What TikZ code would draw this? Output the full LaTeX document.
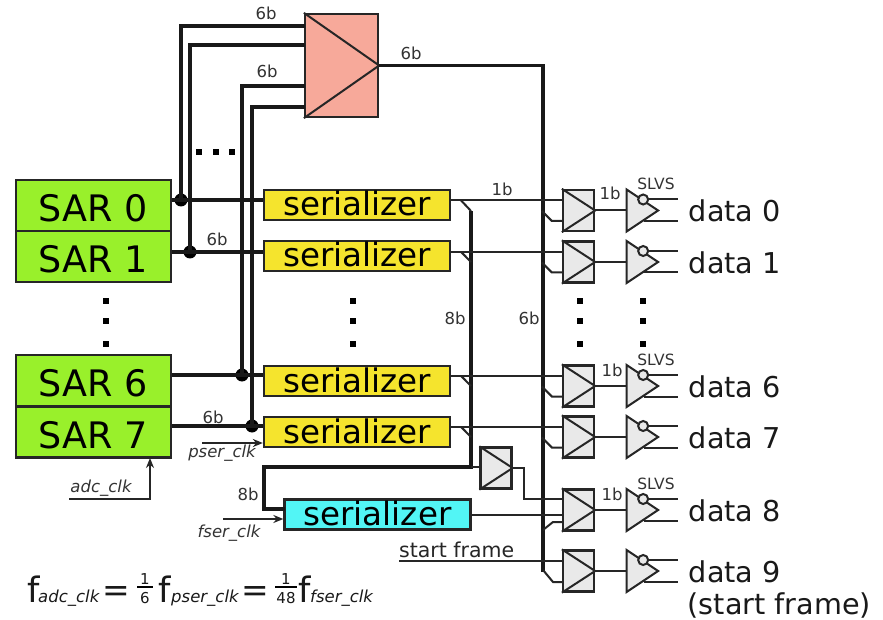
\documentclass[tikz,border=0pt]{standalone}
\usepackage{fontspec}
\setmainfont{DejaVu Sans}
\usetikzlibrary{arrows.meta,calc}
\definecolor{sargreen}{HTML}{99F02B}
\definecolor{seryellow}{HTML}{F5E42D}
\definecolor{sercyan}{HTML}{52F5F5}
\definecolor{muxpink}{HTML}{F7A99A}
\definecolor{muxgray}{HTML}{E9E9E9}
\definecolor{labelgray}{HTML}{333333}
\tikzset{
  x=1pt,y=-1pt,
  boxline/.style={draw=black!85,line width=2.3pt,inner sep=0pt,anchor=center},
  sarbox/.style={boxline,fill=sargreen,minimum width=155pt,minimum height=51pt,font=\fontsize{36.5}{36.5}\selectfont,text height=32pt,text depth=0pt},
  serbox/.style={boxline,fill=seryellow,minimum width=186pt,minimum height=30pt,font=\fontsize{32.5}{32.5}\selectfont,text height=25pt,text depth=3pt},
  cyanbox/.style={serbox,fill=sercyan},
  bigmux/.style={boxline,fill=muxpink,minimum width=73pt,minimum height=103pt},
  datamux/.style={boxline,fill=muxgray,minimum width=31pt,minimum height=41pt},
  busthick/.style={line width=3.8pt,draw=black!90},
  busmid/.style={line width=3.4pt,draw=black!90},
  wire/.style={line width=2pt,draw=black!85},
  clkwire/.style={line width=1.7pt,draw=black!85,-{Stealth[length=10pt,width=8pt]}},
  junction/.style={circle,fill=black,inner sep=0pt,minimum size=13pt},
  dotmark/.style={rectangle,fill=black,inner sep=0pt,minimum size=6pt},
  smalltxt/.style={font=\fontsize{16.5}{16.5}\selectfont,text=labelgray,anchor=base,inner sep=0pt},
  slvstxt/.style={font=\fontsize{15.5}{15.5}\selectfont,text=labelgray,anchor=base,inner sep=0pt},
  clktxt/.style={font=\fontsize{16.5}{16.5}\selectfont\itshape,text=labelgray,anchor=base,inner sep=0pt},
  datatxt/.style={font=\fontsize{28.7}{28.7}\selectfont,anchor=base west,inner sep=0pt,text=black!90},
  eqtxt/.style={anchor=base west,inner sep=0pt,text=black!90},
}
\begin{document}
\begin{tikzpicture}
\useasboundingbox (0,0) rectangle (883,620);
\fill[white] (0,0) rectangle (883,620);

% blocks
\node[sarbox] (sar0) at (93.5,205.5) {SAR 0};
\node[sarbox] (sar1) at (93.5,256.5) {SAR 1};
\node[sarbox] (sar6) at (93.5,380.5) {SAR 6};
\node[sarbox] (sar7) at (93.5,432) {SAR 7};
\node[serbox] (ser0) at (357,205) {serializer};
\node[serbox] (ser1) at (357,256) {serializer};
\node[serbox] (ser6) at (357,381) {serializer};
\node[serbox] (ser7) at (357,432) {serializer};
\node[cyanbox] (ser8) at (377.5,514.5) {serializer};
\node[bigmux] (bm) at (341.5,65.5) {};
\node[datamux] (sm) at (496,468) {};
\node[datamux] (dm0) at (578.5,210.5) {};
\node[datamux] (dm1) at (578.5,262) {};
\node[datamux] (dm6) at (578.5,386) {};
\node[datamux] (dm7) at (578.5,437) {};
\node[datamux] (dm8) at (578.5,510) {};
\node[datamux] (dm9) at (578.5,571) {};

% triangles inside the multiplexers
\foreach \m in {bm,sm,dm0,dm1,dm6,dm7,dm8,dm9}
  \draw[wire] (\m.north west) -- (\m.east) -- (\m.south west);

% SAR outputs and junctions
\node[junction] (j0) at (181,200) {};
\node[junction] (j1) at (190,252) {};
\node[junction] (j6) at (242,375) {};
\node[junction] (j7) at (252,426) {};
\coordinate (bi0) at (305,26);
\coordinate (bi1) at (305,45);
\coordinate (bi6) at (305,86);
\coordinate (bi7) at (305,107);

\draw[busthick] (j0.center) -- (j0.center |- bi0) -- (bi0);
\draw[busthick] (j1.center) -- (j1.center |- bi1) -- (bi1);
\draw[busmid] (j6.center) -- (j6.center |- bi6) -- (bi6);
\draw[busmid] (j7.center) -- (j7.center |- bi7) -- (bi7);

\draw[busthick] (sar0.east |- j0) -- (ser0.west |- j0);
\draw[busthick] (sar1.east |- j1) -- (ser1.west |- j1);
\draw[busthick] (sar6.east |- j6) -- (ser6.west |- j6);
\draw[busthick] (sar7.east |- j7) -- (ser7.west |- j7);

% multiplexer output bus
\coordinate (busb) at (543,572);
\draw[busthick] (bm.east) -- (busb |- bm.east) -- (busb);

% parallel 8b bus into the cyan serializer
\coordinate (tb0) at (471,211);
\coordinate (tb1) at (471,262);
\coordinate (tb6) at (471,386);
\coordinate (tb7) at (471,437);
\coordinate (bcor) at (471,467);
\coordinate (bleft) at (264,467);
\coordinate (cin) at (285,509);
\draw[busthick] (tb0) -- (bcor) -- (bleft) -- (bleft |- cin) -- (cin);
\draw[wire] (bcor) -- (sm.west |- bcor);

% serializer outputs and taps
\foreach \s/\m/\t in {ser0/dm0/tb0,ser1/dm1/tb1,ser6/dm6/tb6,ser7/dm7/tb7}{
  \coordinate (inA) at ($(\m.west)+(0,-10)$);
  \draw[wire] (\s.east |- inA) -- (inA);
  \draw[wire] ($(\s.east |- inA)+(10,0)$) -- (\t);
  \draw[wire] ($(\m.west)+(0,10.5)$) -- ++(-10,0) -- ++(-10,-10);
}

% data 8 and data 9 inputs
\coordinate (smout) at (524,468);
\coordinate (y8a) at (0,499);
\coordinate (y8c) at (0,522);
\coordinate (y9c) at (0,582);
\draw[wire] (sm.east |- smout) -- (smout) -- (smout |- y8a) -- (dm8.west |- y8a);
\coordinate (c8o) at (ser8.east);
\draw[wire] (c8o) -- (dm8.west |- c8o);
\draw[wire] (dm8.west |- y8c) -- (553,522) -- (543,530);
\coordinate (sfstart) at (399,561);
\draw[wire] (sfstart) -- (dm9.west |- sfstart);
\draw[wire] (dm9.west |- y9c) -- (553,582) -- (543,570);

% output buffers
\foreach \m/\lab in {dm0/0,dm1/1,dm6/6,dm7/7,dm8/8,dm9/9}{
  \draw[wire,fill=muxgray,line join=miter] ($(\m.east)+(31.5,-21)$) coordinate (tt\lab)
     -- ($(\m.east)+(63,0)$) -- ($(\m.east)+(31.5,21)$) -- cycle;
  \draw[wire] (\m.east) -- ++(31.5,0);
  \draw[wire] ($(\m.east)+(53,-11)$) -- ++(30,0);
  \draw[wire] ($(\m.east)+(49,10.5)$) -- ++(34,0);
  \draw[wire,fill=muxgray] ($(\m.east)+(48,-11)$) circle[radius=5pt];
  \node[datatxt] (lab\lab) at ($(\m.east)+(93.5,11)$) {data \lab};
}
\node[datatxt,anchor=base west] (lab9b) at (687.5,614) {(start frame)};

% small labels
\node[smalltxt] (l1) at (266,20) {6b};
\node[smalltxt] (l2) at (267,78) {6b};
\node[smalltxt] (l3) at (411,60) {6b};
\node[smalltxt] (l4) at (217,246) {6b};
\node[smalltxt] (l5) at (502,196) {1b};
\node[smalltxt] (l6) at (610,200) {1b};
\node[slvstxt] (l7) at (656,190) {SLVS};
\node[smalltxt] (l8) at (455,324) {8b};
\node[smalltxt] (l9) at (529,324) {6b};
\node[smalltxt] (l10) at (612,376) {1b};
\node[slvstxt] (l11) at (656,365) {SLVS};
\node[smalltxt] (l12) at (213,423) {6b};
\node[smalltxt] (l13) at (248,500) {8b};
\node[smalltxt] (l14) at (612,500) {1b};
\node[slvstxt] (l15) at (656,489) {SLVS};
\node[font=\fontsize{20.5}{20.5}\selectfont,anchor=base west,inner sep=0pt,text=black!85] (sf) at (399,557) {start frame};

% clocks
\coordinate (ckp) at (202,443);
\coordinate (ckf) at (223,519);
\coordinate (cka) at (69,499);
\draw[clkwire] (ckp) -- (ser7.west |- ckp);
\draw[clkwire] (ckf) -- (ser8.west |- ckf);
\draw[clkwire] (cka) -- (150,499) -- (150,458);
\node[clktxt] (p1) at (222,457) {pser\_clk};
\node[clktxt] (p2) at (229,537) {fser\_clk};
\node[clktxt] (p3) at (101,492) {adc\_clk};

% continuation dots
\foreach \n/\px in {a/106,b/353,c/580,d/643}{
  \node[dotmark] (v\n1) at (\px,301) {};
  \node[dotmark] (v\n2) at (\px,321) {};
  \node[dotmark] (v\n3) at (\px,344) {};
}
\node[dotmark] (h1) at (199,152) {};
\node[dotmark] (h2) at (216,152) {};
\node[dotmark] (h3) at (232,152) {};

% formula
\node[eqtxt,font=\fontsize{35}{35}\selectfont] (f1) at (27,602) {f};
\node[eqtxt,font=\fontsize{16.5}{16.5}\selectfont\itshape] (f1s) at (38,602) {adc\_clk};
\node[eqtxt,font=\fontsize{33}{33}\selectfont] (eq1) at (102,601) {=};
\node[eqtxt,anchor=base,font=\fontsize{15}{15}\selectfont] (n1) at (145,584) {1};
\draw[line width=1.6pt] (137,587) -- (153,587);
\node[eqtxt,anchor=base,font=\fontsize{15}{15}\selectfont] (d1) at (145,603) {6};
\node[eqtxt,font=\fontsize{35}{35}\selectfont] (f2) at (158,602) {f};
\node[eqtxt,font=\fontsize{16.5}{16.5}\selectfont\itshape] (f2s) at (171,602) {pser\_clk};
\node[eqtxt,font=\fontsize{33}{33}\selectfont] (eq2) at (241,601) {=};
\node[eqtxt,anchor=base,font=\fontsize{15}{15}\selectfont] (n2) at (286,584) {1};
\draw[line width=1.6pt] (275,587) -- (297,587);
\node[eqtxt,anchor=base,font=\fontsize{15}{15}\selectfont] (d2) at (286,603) {48};
\node[eqtxt,font=\fontsize{35}{35}\selectfont] (f3) at (298,602) {f};
\node[eqtxt,font=\fontsize{16.5}{16.5}\selectfont\itshape] (f3s) at (310,602) {fser\_clk};
\end{tikzpicture}
\end{document}
